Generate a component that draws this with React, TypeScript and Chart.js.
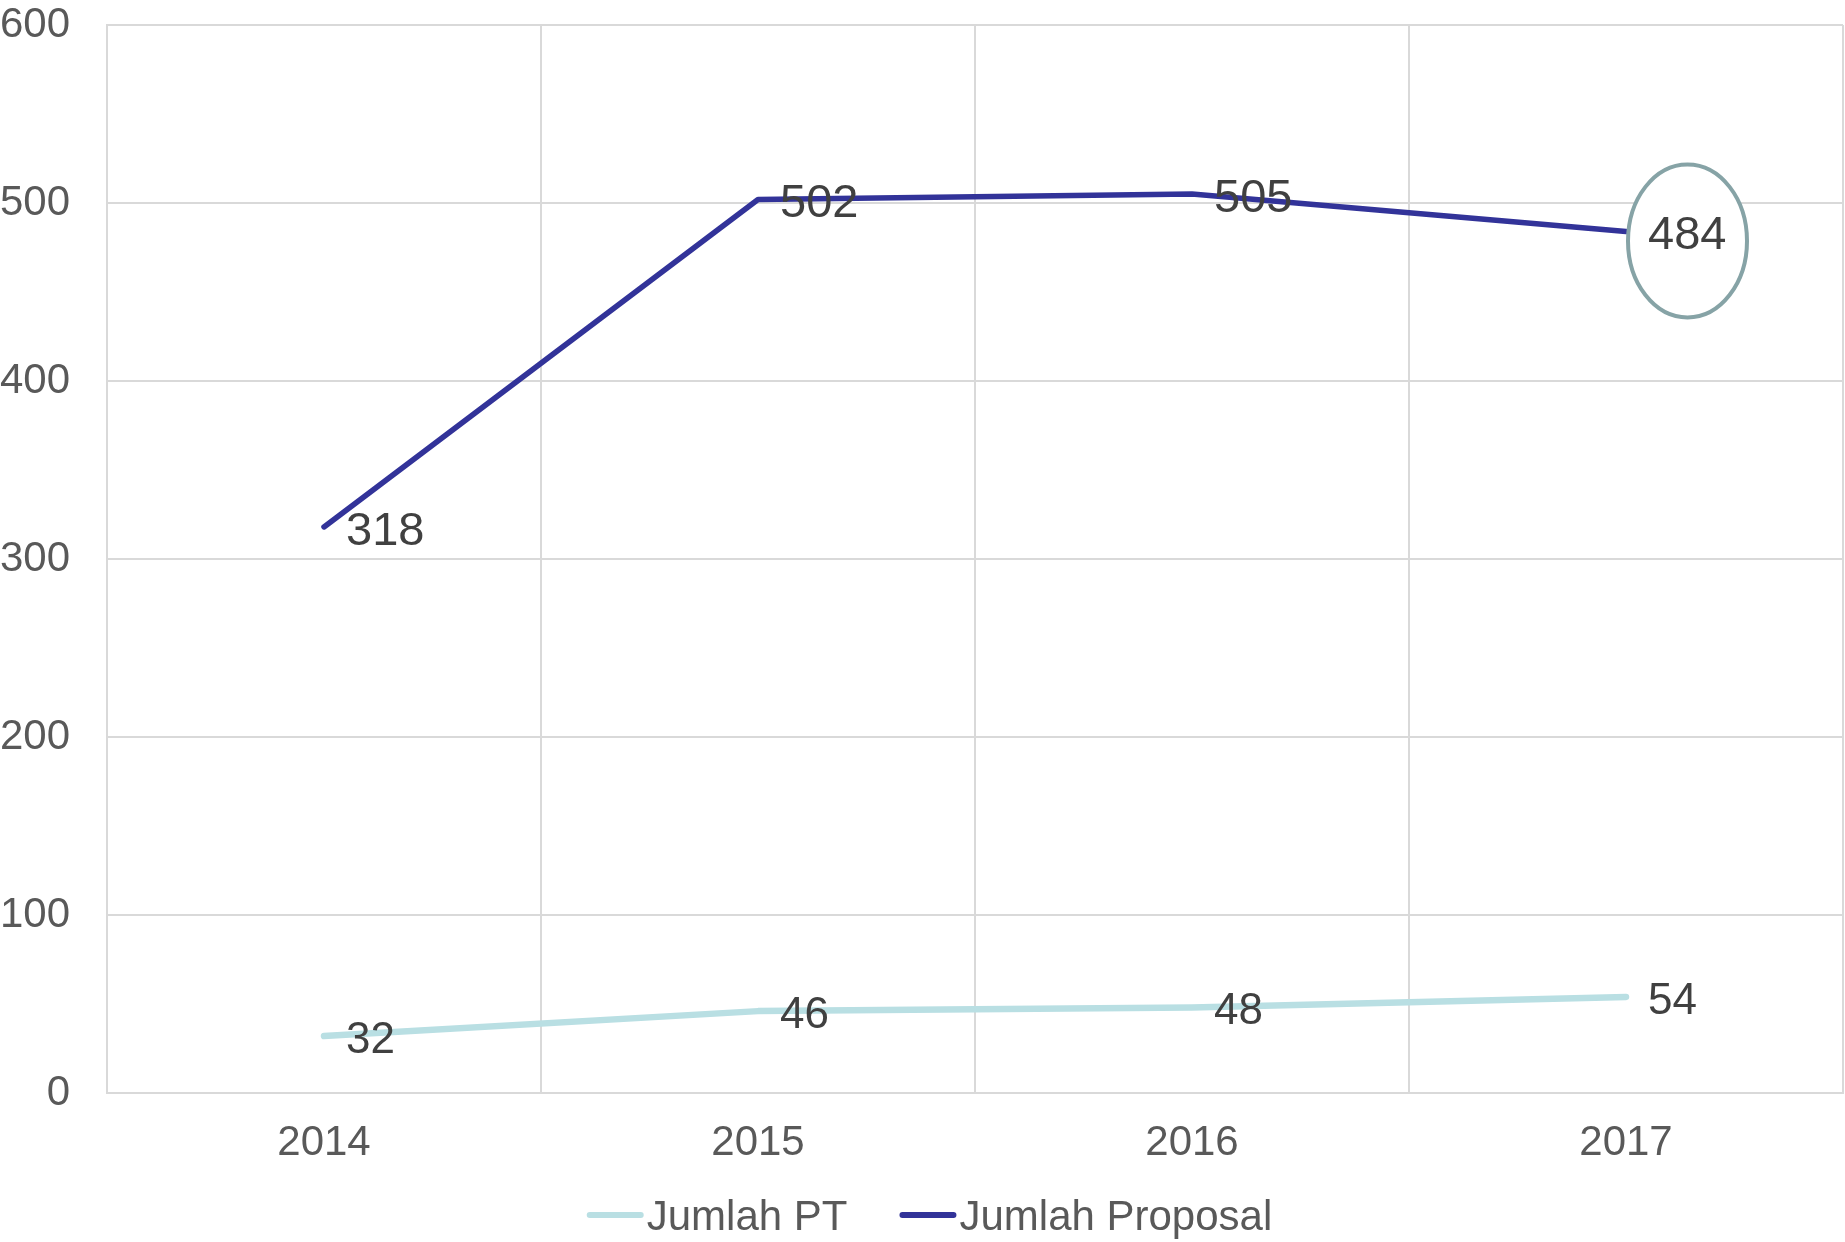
import React, { useEffect, useRef } from 'react';
import { Chart, registerables } from 'chart.js';

Chart.register(...registerables);

// ---- data ----
const categories = ['2014', '2015', '2016', '2017'];
const seriesNames = ['Jumlah PT', 'Jumlah Proposal'];
const jumlahPT = [32, 46, 48, 54];
const jumlahProposal = [318, 502, 505, 484];
const yMin = 0;
const yMax = 600;
const yStep = 100;
const highlightIndex = 3; // 2017 value of Jumlah Proposal is circled

// ---- styles ----
const FONT = '"Liberation Sans", Arial, Helvetica, sans-serif';
const colorPT = '#b9dfe3';
const colorProposal = '#323399';
const axisTextColor = '#595959';
const labelTextColor = '#404040';
const gridColor = '#d9d9d9';
const ellipseColor = '#86a3a6';

const dataLabelPlugin = {
  id: 'dataLabels',
  afterDatasetsDraw(chart: any) {
    const { ctx, chartArea } = chart;
    // highlight ellipse for the circled point
    const propMeta = chart.getDatasetMeta(1);
    const hp = propMeta.data[highlightIndex];
    if (hp) {
      const binW = (chartArea.right - chartArea.left) / categories.length;
      const cx = hp.x + binW * 0.1417;
      const cy = hp.y + 9.5;
      ctx.save();
      ctx.beginPath();
      ctx.ellipse(cx, cy, 59.5, 76.5, 0, 0, Math.PI * 2);
      ctx.fillStyle = '#ffffff';
      ctx.fill();
      ctx.lineWidth = 4;
      ctx.strokeStyle = ellipseColor;
      ctx.stroke();
      ctx.restore();
    }
    const sizes = [44, 47];
    chart.data.datasets.forEach((ds: any, di: number) => {
      const meta = chart.getDatasetMeta(di);
      const fs = sizes[di];
      ctx.save();
      ctx.font = `${fs}px ${FONT}`;
      ctx.fillStyle = labelTextColor;
      ctx.textAlign = 'left';
      ctx.textBaseline = 'alphabetic';
      meta.data.forEach((pt: any, i: number) => {
        const v = ds.data[i];
        ctx.fillText(String(v), pt.x + 22, pt.y + fs * 0.358 + 1);
      });
      ctx.restore();
    });
  },
};

const customLegendPlugin = {
  id: 'customLegend',
  afterDraw(chart: any) {
    const { ctx, width, height } = chart;
    const fs = 42;
    const lineLen = 57;
    const gap = 3;
    const itemGap = 52;
    ctx.save();
    ctx.font = `${fs}px ${FONT}`;
    const items = chart.data.datasets.map((ds: any) => ({
      text: ds.label,
      color: ds.borderColor,
      w: ctx.measureText(ds.label).width,
    }));
    const total =
      items.reduce((s: number, it: any) => s + lineLen + gap + it.w, 0) +
      itemGap * (items.length - 1);
    let x = width / 2 + 7 - total / 2;
    const baseline = height - 12;
    const midY = baseline - fs * 0.358;
    items.forEach((it: any) => {
      ctx.beginPath();
      ctx.lineCap = 'round';
      ctx.lineWidth = 6;
      ctx.strokeStyle = it.color;
      ctx.moveTo(x + 3, midY);
      ctx.lineTo(x + lineLen - 3, midY);
      ctx.stroke();
      ctx.fillStyle = axisTextColor;
      ctx.textAlign = 'left';
      ctx.textBaseline = 'alphabetic';
      ctx.fillText(it.text, x + lineLen + gap, baseline);
      x += lineLen + gap + it.w + itemGap;
    });
    ctx.restore();
  },
};

export default function App() {
  const canvasRef = useRef<HTMLCanvasElement | null>(null);

  useEffect(() => {
    if (!canvasRef.current) return;
    const chart = new Chart(canvasRef.current, {
      type: 'line',
      data: {
        labels: categories,
        datasets: [
          {
            label: seriesNames[0],
            data: jumlahPT,
            borderColor: colorPT,
            backgroundColor: colorPT,
            borderWidth: 6.5,
            borderCapStyle: 'round',
            borderJoinStyle: 'round',
            pointRadius: 0,
            pointHoverRadius: 0,
            tension: 0,
            fill: false,
          },
          {
            label: seriesNames[1],
            data: jumlahProposal,
            borderColor: colorProposal,
            backgroundColor: colorProposal,
            borderWidth: 5.5,
            borderCapStyle: 'round',
            borderJoinStyle: 'round',
            pointRadius: 0,
            pointHoverRadius: 0,
            tension: 0,
            fill: false,
          },
        ],
      },
      options: {
        animation: false,
        responsive: true,
        maintainAspectRatio: false,
        layout: { padding: { top: 25, right: 2, left: 0, bottom: 0 } },
        plugins: {
          legend: { display: false },
          tooltip: { enabled: false },
          title: { display: false },
        },
        scales: {
          x: {
            type: 'category',
            offset: true,
            grid: {
              offset: true,
              color: gridColor,
              lineWidth: 2,
              drawTicks: false,
            },
            border: { color: gridColor, width: 2 },
            ticks: {
              color: axisTextColor,
              font: { family: FONT, size: 42, lineHeight: 1 },
              padding: 29,
              maxRotation: 0,
              autoSkip: false,
            },
            afterFit(scale: any) {
              scale.height = 149;
              scale.paddingLeft = 0;
              scale.paddingRight = 0;
            },
          },
          y: {
            min: yMin,
            max: yMax,
            grid: {
              color: gridColor,
              lineWidth: 2,
              drawTicks: false,
            },
            border: { color: gridColor, width: 2 },
            ticks: {
              stepSize: yStep,
              color: axisTextColor,
              font: { family: FONT, size: 42, lineHeight: 1 },
              padding: 37,
            },
            afterFit(scale: any) {
              scale.width = 107;
              scale.paddingTop = 0;
              scale.paddingBottom = 0;
            },
          },
        },
      },
      plugins: [dataLabelPlugin, customLegendPlugin],
    } as any);
    return () => chart.destroy();
  }, []);

  return (
    <div
      style={{
        position: 'fixed',
        left: 0,
        top: 0,
        width: '1845px',
        height: '1242px',
        background: '#ffffff',
      }}
    >
      <canvas ref={canvasRef} />
    </div>
  );
}
